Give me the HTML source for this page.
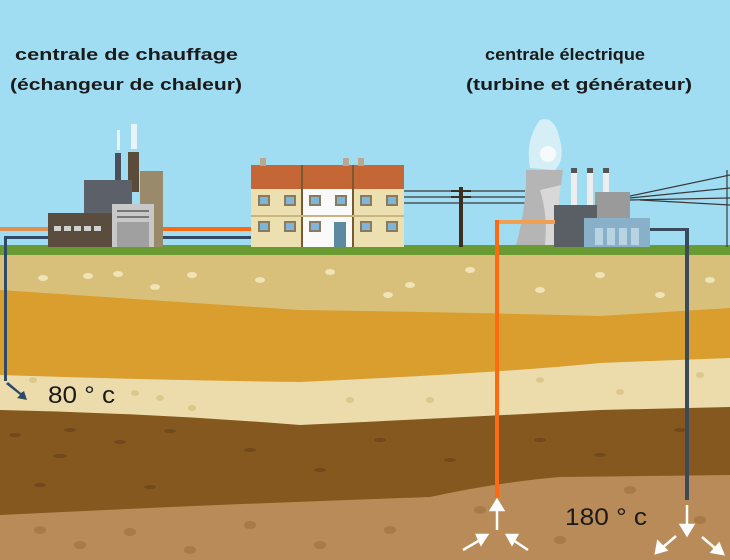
<!DOCTYPE html>
<html><head><meta charset="utf-8"><style>
html,body{margin:0;padding:0;width:730px;height:560px;overflow:hidden;background:#a0ddf3}
svg{display:block}
text{font-family:"Liberation Sans",sans-serif;fill:#1a1a1a}
</style></head><body>
<svg width="730" height="560" viewBox="0 0 730 560" xmlns="http://www.w3.org/2000/svg">
<rect width="730" height="560" fill="#a0ddf3"/>
<!-- strata -->
<rect x="0" y="245" width="730" height="315" fill="#d8c07a"/>
<path d="M0 290 Q150 300 300 310 Q450 312 600 316 L730 308 L730 560 L0 560Z" fill="#d99e2e"/>
<path d="M0 375 Q150 380 300 382 Q500 373 600 363 L730 358 L730 560 L0 560Z" fill="#ecdcab"/>
<path d="M0 410 Q150 413 300 425 Q450 418 600 410 L730 407 L730 560 L0 560Z" fill="#84581f"/>
<path d="M0 515 Q200 505 430 497 Q500 482 560 477 L730 475 L730 560 L0 560Z" fill="#b98b58"/>
<g fill="#efe3b8">
<ellipse cx="43" cy="278" rx="5" ry="3"/><ellipse cx="88" cy="276" rx="5" ry="3"/><ellipse cx="118" cy="274" rx="5" ry="3"/><ellipse cx="155" cy="287" rx="5" ry="3"/><ellipse cx="192" cy="275" rx="5" ry="3"/><ellipse cx="260" cy="280" rx="5" ry="3"/><ellipse cx="330" cy="272" rx="5" ry="3"/><ellipse cx="388" cy="295" rx="5" ry="3"/><ellipse cx="410" cy="285" rx="5" ry="3"/><ellipse cx="470" cy="270" rx="5" ry="3"/><ellipse cx="540" cy="290" rx="5" ry="3"/><ellipse cx="600" cy="275" rx="5" ry="3"/><ellipse cx="660" cy="295" rx="5" ry="3"/><ellipse cx="710" cy="280" rx="5" ry="3"/>
</g>
<g fill="#dcc88a">
<ellipse cx="33" cy="380" rx="4" ry="3"/><ellipse cx="135" cy="393" rx="4" ry="3"/><ellipse cx="160" cy="398" rx="4" ry="3"/><ellipse cx="192" cy="408" rx="4" ry="3"/><ellipse cx="350" cy="400" rx="4" ry="3"/><ellipse cx="430" cy="400" rx="4" ry="3"/><ellipse cx="540" cy="380" rx="4" ry="3"/><ellipse cx="620" cy="392" rx="4" ry="3"/><ellipse cx="700" cy="375" rx="4" ry="3"/>
</g>
<g fill="#72491a">
<ellipse cx="15" cy="435" rx="6" ry="2"/><ellipse cx="70" cy="430" rx="6" ry="2"/><ellipse cx="60" cy="456" rx="7" ry="2"/><ellipse cx="120" cy="442" rx="6" ry="2"/><ellipse cx="40" cy="485" rx="6" ry="2"/><ellipse cx="170" cy="431" rx="6" ry="2"/><ellipse cx="150" cy="487" rx="6" ry="2"/><ellipse cx="250" cy="450" rx="6" ry="2"/><ellipse cx="320" cy="470" rx="6" ry="2"/><ellipse cx="380" cy="440" rx="6" ry="2"/><ellipse cx="450" cy="460" rx="6" ry="2"/><ellipse cx="540" cy="440" rx="6" ry="2"/><ellipse cx="600" cy="455" rx="6" ry="2"/><ellipse cx="680" cy="430" rx="6" ry="2"/>
</g>
<g fill="#a87a48">
<ellipse cx="40" cy="530" rx="6" ry="4"/><ellipse cx="80" cy="545" rx="6" ry="4"/><ellipse cx="130" cy="532" rx="6" ry="4"/><ellipse cx="190" cy="550" rx="6" ry="4"/><ellipse cx="250" cy="525" rx="6" ry="4"/><ellipse cx="320" cy="545" rx="6" ry="4"/><ellipse cx="390" cy="530" rx="6" ry="4"/><ellipse cx="480" cy="510" rx="6" ry="4"/><ellipse cx="560" cy="540" rx="6" ry="4"/><ellipse cx="630" cy="490" rx="6" ry="4"/><ellipse cx="700" cy="520" rx="6" ry="4"/>
</g>
<!-- grass -->
<rect x="0" y="245" width="730" height="10" fill="#6a9a32"/>
<!-- left heating plant -->
<rect x="115" y="153" width="6" height="35" fill="#4a5058"/>
<rect x="128" y="152" width="11" height="40" fill="#5a4b3a"/>
<rect x="140" y="171" width="23" height="76" fill="#9a8a6c"/>
<rect x="84" y="180" width="48" height="67" fill="#5c6169"/>
<rect x="48" y="213" width="66" height="34" fill="#5a4d3e"/>
<g fill="#d0d0d0"><rect x="54" y="226" width="7" height="5"/><rect x="64" y="226" width="7" height="5"/><rect x="74" y="226" width="7" height="5"/><rect x="84" y="226" width="7" height="5"/><rect x="94" y="226" width="7" height="5"/></g>
<rect x="112" y="204" width="42" height="43" fill="#c8c8c8"/>
<rect x="117" y="222" width="32" height="25" fill="#a0a0a0"/>
<rect x="117" y="210" width="32" height="2" fill="#777"/><rect x="117" y="216" width="32" height="2" fill="#777"/>
<g fill="#e8f4f8"><rect x="117" y="130" width="3" height="20"/><rect x="131" y="124" width="6" height="25"/></g>
<!-- houses -->
<rect x="251" y="165" width="153" height="24" fill="#c46636"/>
<rect x="251" y="189" width="153" height="58" fill="#ece0b0"/>
<rect x="303" y="189" width="50" height="58" fill="#fafafa"/>
<rect x="301" y="165" width="2" height="82" fill="#7a5a30"/><rect x="352" y="165" width="2" height="82" fill="#7a5a30"/>
<rect x="251" y="215" width="153" height="2" fill="#c9b583"/>
<g fill="#7fb6d8" stroke="#8a7a60" stroke-width="2">
<rect x="259" y="196" width="10" height="9"/><rect x="285" y="196" width="10" height="9"/><rect x="310" y="196" width="10" height="9"/><rect x="336" y="196" width="10" height="9"/><rect x="361" y="196" width="10" height="9"/><rect x="387" y="196" width="10" height="9"/>
<rect x="259" y="222" width="10" height="9"/><rect x="285" y="222" width="10" height="9"/><rect x="310" y="222" width="10" height="9"/><rect x="361" y="222" width="10" height="9"/><rect x="387" y="222" width="10" height="9"/>
</g>
<rect x="334" y="222" width="12" height="25" fill="#5c8aa0"/>
<g fill="#b8a890"><rect x="260" y="158" width="6" height="8"/><rect x="343" y="158" width="6" height="8"/><rect x="358" y="158" width="6" height="8"/></g>
<!-- left pipes -->
<rect x="0" y="227" width="48" height="4" fill="#e09050"/>
<rect x="163" y="227" width="88" height="4" fill="#ff6a10"/>
<rect x="4" y="236" width="44" height="3" fill="#2e4a66"/>
<rect x="163" y="236" width="88" height="3" fill="#2e4a66"/>
<rect x="4" y="236" width="3" height="145" fill="#2e4a66"/>
<path d="M6 384 L20 395 L17 398 L27 400 L24 391 L21 393 L8 382Z" fill="#2e4a66"/>
<!-- power lines -->
<g stroke="#3a3a3a" stroke-width="1.2" fill="none">
<line x1="404" y1="191" x2="525" y2="191"/><line x1="404" y1="197" x2="525" y2="197"/><line x1="404" y1="203" x2="525" y2="203"/>
<line x1="630" y1="196" x2="730" y2="175"/><line x1="630" y1="198" x2="730" y2="188"/><line x1="630" y1="200" x2="730" y2="198"/><line x1="640" y1="200" x2="730" y2="205"/>
<line x1="727" y1="170" x2="727" y2="247"/>
</g>
<rect x="459" y="187" width="4" height="60" fill="#3d2e22"/>
<rect x="451" y="190" width="20" height="2" fill="#3d2e22"/><rect x="451" y="196" width="20" height="2" fill="#3d2e22"/>
<!-- power plant -->
<path d="M526 170 L563 170 L561 185 Q556 200 563 245 L516 245 Q527 205 526 170Z" fill="#b5b5b5"/>
<path d="M540 190 L561 185 Q556 205 563 245 L545 245 Q548 215 540 190Z" fill="#d8d8d8"/>
<path d="M530 168 Q525 140 540 120 Q555 115 560 140 Q565 160 555 170Z" fill="#d6eef6"/>
<circle cx="548" cy="154" r="8" fill="#f5fbfd"/>
<rect x="571" y="168" width="6" height="60" fill="#eeeeee"/><rect x="587" y="168" width="6" height="60" fill="#eeeeee"/><rect x="603" y="168" width="6" height="60" fill="#eeeeee"/>
<rect x="571" y="168" width="6" height="5" fill="#555"/><rect x="587" y="168" width="6" height="5" fill="#555"/><rect x="603" y="168" width="6" height="5" fill="#555"/>
<rect x="595" y="192" width="35" height="55" fill="#9a9a9a"/>
<rect x="554" y="205" width="43" height="42" fill="#5a5f66"/>
<rect x="584" y="218" width="66" height="29" fill="#88b0c8"/>
<g fill="#b8d4e2"><rect x="595" y="228" width="8" height="17"/><rect x="607" y="228" width="8" height="17"/><rect x="619" y="228" width="8" height="17"/><rect x="631" y="228" width="8" height="17"/></g>
<!-- right pipes -->
<rect x="495" y="220" width="60" height="4" fill="#f0a050"/>
<rect x="495" y="220" width="4" height="278" fill="#ff6a10"/>
<rect x="650" y="228" width="38" height="3" fill="#3a4a5a"/>
<rect x="685" y="228" width="4" height="272" fill="#3a4a5a"/>
<!-- white arrows -->
<g fill="#ffffff" stroke="#ffffff" stroke-width="2.5">
<line x1="497" y1="530" x2="497" y2="508"/><path d="M491 510 L497 500 L503 510Z"/>
<line x1="463" y1="550" x2="480" y2="540"/><path d="M477 535 L487 535 L481 544Z"/>
<line x1="528" y1="550" x2="513" y2="540"/><path d="M517 535 L507 535 L512 544Z"/>
<line x1="687" y1="505" x2="687" y2="527"/><path d="M681 525 L687 535 L693 525Z"/>
<line x1="676" y1="536" x2="662" y2="548"/><path d="M658 542 L656 553 L666 550Z"/>
<line x1="702" y1="537" x2="716" y2="549"/><path d="M712 552 L723 554 L719 544Z"/>
</g>
<!-- labels -->
<g font-weight="bold" font-size="17">
<text x="15" y="60" textLength="223" lengthAdjust="spacingAndGlyphs">centrale de chauffage</text>
<text x="10" y="90" textLength="232" lengthAdjust="spacingAndGlyphs">(échangeur de chaleur)</text>
<text x="485" y="60" textLength="160" lengthAdjust="spacingAndGlyphs">centrale électrique</text>
<text x="466" y="90" textLength="226" lengthAdjust="spacingAndGlyphs">(turbine et générateur)</text>
</g>
<text x="48" y="403" font-size="24" textLength="67" lengthAdjust="spacingAndGlyphs">80 ° c</text>
<text x="565" y="525" font-size="24" textLength="82" lengthAdjust="spacingAndGlyphs">180 ° c</text>
</svg>
</body></html>
